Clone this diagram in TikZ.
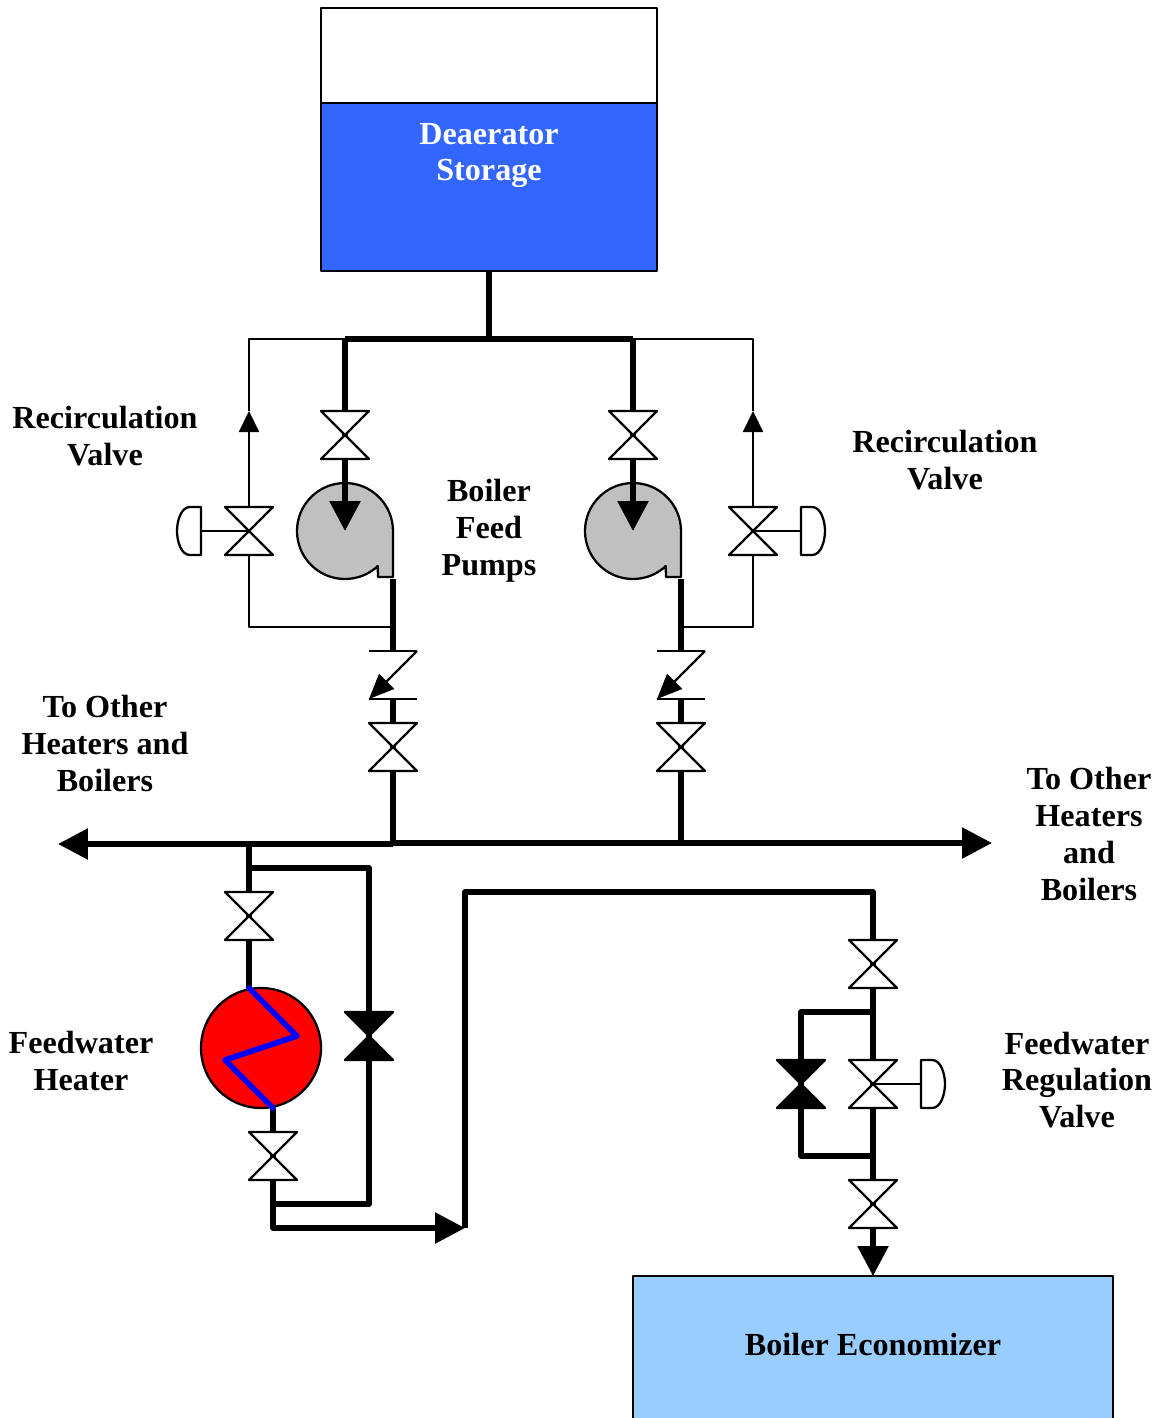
\documentclass[tikz,border=0pt]{standalone}
\usepackage{fontspec}
\setmainfont{Liberation Serif}
\usetikzlibrary{arrows.meta}
\definecolor{tankblue}{HTML}{3366FF}
\definecolor{econblue}{HTML}{99CCFF}
\definecolor{pumpgray}{HTML}{C0C0C0}
\tikzset{
  thinline/.style={line width=1.3pt,line join=round},
  pipe/.style={line width=3.2pt,line join=round},
  bigtip/.style={-{Triangle[length=0.6cm,width=0.6cm]}},
  smalltip/.style={-{Triangle[length=0.42cm,width=0.4cm]}},
  checktip/.style={-{Triangle[length=0.5cm,width=0.42cm]}},
  lbl/.style={font=\bfseries\fontsize{18.3}{21}\selectfont,align=center,inner sep=0pt},
  valve/.pic={\draw[thinline,fill=white] (-24,-24)--(24,-24)--(-24,24)--(24,24)--cycle;},
  fvalve/.pic={\draw[thinline,fill=black] (-24,-24)--(24,-24)--(-24,24)--(24,24)--cycle;},
  actuator/.pic={\draw[thinline,fill=white] (0,-24)--(11,-24)
     .. controls (20,-24) and (24,-10) .. (24,0)
     .. controls (24,10) and (20,24) .. (11,24)--(0,24)--cycle;},
  checkvalve/.pic={
     \draw[thinline] (-24,-24)--(24,-24);
     \draw[thinline] (-24,24)--(24,24);
     \draw[thinline,checktip] (24,-24)--(-24,24);},
  pump/.pic={\draw[thinline,fill=pumpgray] (48,0) arc[start angle=0,end angle=-313,radius=48]
     -- (33,46) -- (48,46) -- cycle;}
}
\begin{document}
\begin{tikzpicture}[x=0.02cm,y=-0.02cm]
\useasboundingbox (0,0) rectangle (1161,1418);
\clip (0,0) rectangle (1161,1418);

% tank and economizer
\fill[white] (0,0) rectangle (1161,1418);
\draw[thinline,fill=white] (321,8) rectangle (657,103);
\draw[thinline,fill=tankblue] (321,103) rectangle (657,271);
\draw[thinline,fill=econblue] (633,1276) rectangle (1113,1440);

% points
\coordinate (tankout) at (489,271);
\coordinate (tee) at (489,339);
\coordinate (teeL) at (345,339);
\coordinate (teeR) at (633,339);
\coordinate (recLtop) at (249,339);
\coordinate (recRtop) at (753,339);
\coordinate (recLtip) at (249,411);
\coordinate (recRtip) at (753,411);
\coordinate (recLv) at (249,531);
\coordinate (recRv) at (753,531);
\coordinate (recLbot) at (249,627);
\coordinate (recRbot) at (753,627);
\coordinate (disLj) at (393,627);
\coordinate (disRj) at (681,627);
\coordinate (actL) at (201,531);
\coordinate (actR) at (801,531);
\coordinate (pumpL) at (345,531);
\coordinate (pumpR) at (633,531);
\coordinate (suctL) at (345,435);
\coordinate (suctR) at (633,435);
\coordinate (disLs) at (393,579);
\coordinate (disRs) at (681,579);
\coordinate (chkL) at (393,675);
\coordinate (chkR) at (681,675);
\coordinate (chkLt) at (393,651);
\coordinate (chkRt) at (681,651);
\coordinate (chkLb) at (393,699);
\coordinate (chkRb) at (681,699);
\coordinate (isoL) at (393,747);
\coordinate (isoR) at (681,747);
\coordinate (hdrLj) at (393,844);
\coordinate (hdrLj2) at (393,843);
\coordinate (hdrRj) at (681,843);
\coordinate (hdrLtip) at (58,844);
\coordinate (hdrRtip) at (992,843);
\coordinate (fwtop) at (249,844);
\coordinate (fwby) at (249,868);
\coordinate (fwin) at (249,916);
\coordinate (htin) at (249,988);
\coordinate (hz1) at (297,1036);
\coordinate (hz2) at (225,1060);
\coordinate (htout) at (273,1108);
\coordinate (htc) at (261,1048);
\coordinate (fwout) at (273,1156);
\coordinate (byc) at (369,868);
\coordinate (byv) at (369,1036);
\coordinate (byb) at (369,1204);
\coordinate (byj) at (273,1204);
\coordinate (fwc) at (273,1228);
\coordinate (fwtip) at (465,1228);
\coordinate (upc) at (465,892);
\coordinate (upr) at (873,892);
\coordinate (regtop) at (873,964);
\coordinate (regj1) at (873,1012);
\coordinate (regby1) at (801,1012);
\coordinate (regbyv) at (801,1084);
\coordinate (regby2) at (801,1156);
\coordinate (regj2) at (873,1156);
\coordinate (regv) at (873,1084);
\coordinate (regact) at (921,1084);
\coordinate (regbot) at (873,1204);
\coordinate (econtip) at (873,1276);

% pumps and heater
\pic at (pumpL) {pump};
\pic at (pumpR) {pump};
\node[circle,draw,line width=1.3pt,fill=red,minimum size=2.4cm,inner sep=0pt] (heater) at (htc) {};

% thin recirculation lines
\draw[thinline] (teeL)--(recLtop)--(recLtip);
\draw[thinline,smalltip] (recLv)--(recLtip);
\draw[thinline] (recLv)--(recLbot)--(disLj);
\draw[thinline] (teeR)--(recRtop)--(recRtip);
\draw[thinline,smalltip] (recRv)--(recRtip);
\draw[thinline] (recRv)--(recRbot)--(disRj);
\draw[thinline] (recLv)--(actL);
\draw[thinline] (recRv)--(actR);
\draw[thinline] (regv)--(regact);

% thick pipes
\draw[pipe] (tankout)--(tee);
\draw[pipe] (teeL)--(teeR);
\draw[pipe,bigtip] (teeL)--(pumpL);
\draw[pipe,bigtip] (teeR)--(pumpR);
\draw[pipe] (disLs)--(chkLt);
\draw[pipe] (disRs)--(chkRt);
\draw[pipe] (chkLb)--(hdrLj);
\draw[pipe] (chkRb)--(hdrRj);
\draw[pipe,bigtip] (hdrLj)--(hdrLtip);
\draw[pipe,bigtip] (hdrLj2)--(hdrRtip);
\draw[pipe] (fwtop)--(htin);
\draw[pipe] (fwby)--(byc)--(byb)--(byj);
\draw[pipe,bigtip] (htout)--(fwc)--(fwtip);
\draw[pipe,bigtip] (fwtip)--(upc)--(upr)--(econtip);
\draw[pipe] (regj1)--(regby1)--(regby2)--(regj2);
\draw[pipe,blue,line cap=round] (htin)--(hz1)--(hz2)--(htout);

% valves
\foreach \v in {suctL,suctR,recLv,recRv,isoL,isoR,fwin,fwout,regtop,regv,regbot}
  \pic at (\v) {valve};
\pic at (byv) {fvalve};
\pic at (regbyv) {fvalve};
\pic at (chkL) {checkvalve};
\pic at (chkR) {checkvalve};
\pic[xscale=-1] at (actL) {actuator};
\pic at (actR) {actuator};
\pic at (regact) {actuator};

% labels
\node[lbl,text=white] (tanktxt) at (489,155.5) {Deaerator\\Storage};
\node[lbl] (recLtxt) at (105,436.5) {Recirculation\\Valve};
\node[lbl] (recRtxt) at (945,460.5) {Recirculation\\Valve};
\node[lbl] (pumptxt) at (489,530.5) {Boiler\\Feed\\Pumps};
\node[lbl] (hdrLtxt) at (105,743.5) {To Other\\Heaters and\\Boilers};
\node[lbl] (hdrRtxt) at (1089,834) {To Other\\Heaters\\and\\Boilers};
\node[lbl] (httxt) at (81,1061) {Feedwater\\Heater};
\node[lbl] (regtxt) at (1077,1080) {Feedwater\\Regulation\\Valve};
\node[lbl] (econtxt) at (873,1344) {Boiler Economizer};
\end{tikzpicture}
\end{document}
